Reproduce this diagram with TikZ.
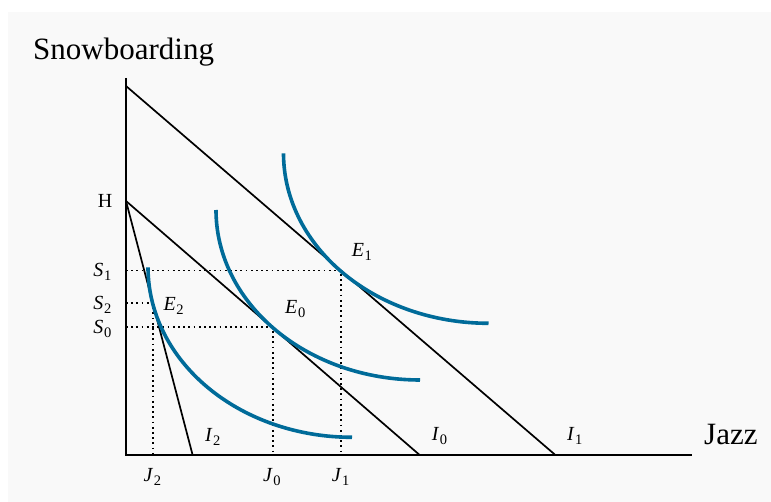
\documentclass[tikz,border=0pt]{standalone}
\usepackage{fontspec}
\setmainfont{Liberation Serif}
\definecolor{curveblue}{RGB}{0,107,153}
\definecolor{bggray}{RGB}{249,249,249}
\newcommand{\lab}[2]{\textit{#1}\kern0.6pt\raisebox{-3.8pt}{\fontsize{14.5}{16}\selectfont #2}}
\begin{document}
\begin{tikzpicture}[x=1pt,y=-1pt,
  axis/.style={line width=2.2pt},
  budget/.style={line width=1.7pt},
  guide/.style={line width=1.8pt, dash pattern=on 1.8pt off 3.4pt},
  indiff/.style={line width=3.6pt, draw=curveblue},
  lbl/.style={font=\fontsize{20}{23}\selectfont, inner sep=0pt},
  big/.style={font=\fontsize{31}{36}\selectfont, inner sep=0pt}]
\fill[white] (0,0) rectangle (771,502);
\fill[bggray] (8,12) rectangle (771,502);
\useasboundingbox (0,0) rectangle (771,502);
% key points
\coordinate (O) at (126,455.3);
\coordinate (Ytop) at (126,78);
\coordinate (Xend) at (691.7,455.3);
\coordinate (T) at (126,86);
\coordinate (H) at (126,201);
\coordinate (A1) at (555.7,455.3);
\coordinate (A0) at (420,455.3);
\coordinate (A2) at (192.7,455.3);
\coordinate (E1) at (341,270.5);
\coordinate (E0) at (273,327.3);
\coordinate (E2) at (153.3,303.3);
% guides
\draw[guide] (T |- E1) -- (E1) -- (E1 |- O);
\draw[guide] (T |- E0) -- (E0) -- (E0 |- O);
\draw[guide] (T |- E2) -- (E2) -- (E2 |- O);
% budget lines
\draw[budget] (T) -- (A1);
\draw[budget] (H) -- (A0);
\draw[budget] (H) -- (A2);
% indifference curves
\draw[indiff, shift={(283.5,153.3)}] plot[domain=0:90, samples=80, smooth] ({205-205*cos(\x)},{170*sin(\x)});
\draw[indiff, shift={(216,210)}] plot[domain=0:90, samples=80, smooth] ({204-204*cos(\x)},{170*sin(\x)});
\draw[indiff, shift={(148,267.3)}] plot[domain=0:90, samples=80, smooth] ({204-204*cos(\x)},{170*sin(\x)});
% axes
\draw[axis] (Ytop) -- (O) -- (Xend);
% labels
\node[big, anchor=base west] (ylab) at (33,60) {Snowboarding};
\node[big, anchor=base west] (xlab) at (704,444.5) {Jazz};
\node[lbl] (Hl) at (105,201) {H};
\node[lbl, anchor=base east] (S1l) at (111.5,276.8) {\lab{S}{1}};
\node[lbl, anchor=base east] (S2l) at (111.5,309.6) {\lab{S}{2}};
\node[lbl, anchor=base east] (S0l) at (111.5,333.6) {\lab{S}{0}};
\node[lbl, anchor=base west] (E1l) at (351.7,256.7) {\lab{E}{1}};
\node[lbl, anchor=base west] (E0l) at (285,313.3) {\lab{E}{0}};
\node[lbl, anchor=base west] (E2l) at (163.3,310.7) {\lab{E}{2}};
\node[lbl, anchor=base west] (I2l) at (205,441.2) {\lab{I}{2}};
\node[lbl, anchor=base west] (I0l) at (431.7,440.7) {\lab{I}{0}};
\node[lbl, anchor=base west] (I1l) at (567,440.7) {\lab{I}{1}};
\node[lbl, anchor=base west] (J2l) at (143.3,481.5) {\lab{J}{2}};
\node[lbl, anchor=base west] (J0l) at (263,481.5) {\lab{J}{0}};
\node[lbl, anchor=base west] (J1l) at (331.7,481.5) {\lab{J}{1}};
\end{tikzpicture}
\end{document}
